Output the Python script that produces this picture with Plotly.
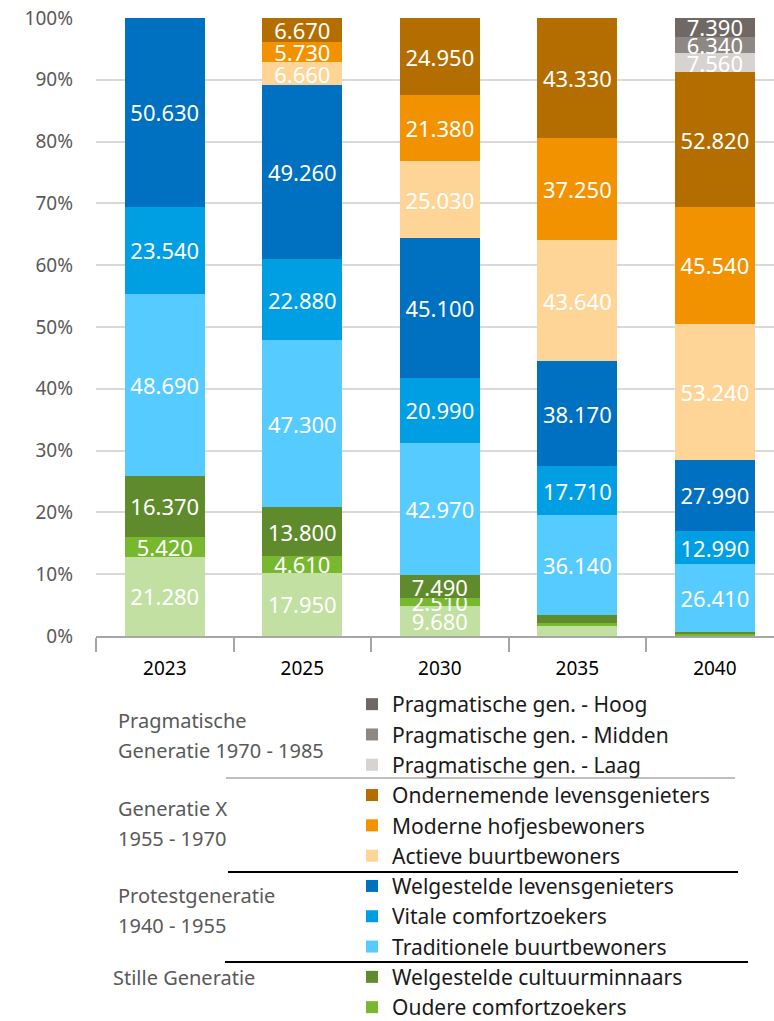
import plotly.graph_objects as go

years = ["2023", "2025", "2030", "2035", "2040"]

# series, bottom to top (absolute numbers)
stille_overig = [21280, 17950, 9680, 3600, 300]
oudere_comfort = [5420, 4610, 2510, 1100, 500]
welg_cultuur = [16370, 13800, 7490, 2900, 900]
trad_buurt = [48690, 47300, 42970, 36140, 26410]
vitale_comfort = [23540, 22880, 20990, 17710, 12990]
welg_leven = [50630, 49260, 45100, 38170, 27990]
actieve_buurt = [0, 6660, 25030, 43640, 53240]
moderne_hofjes = [0, 5730, 21380, 37250, 45540]
ondern_leven = [0, 6670, 24950, 43330, 52820]
prag_laag = [0, 0, 0, 0, 7560]
prag_midden = [0, 0, 0, 0, 6340]
prag_hoog = [0, 0, 0, 0, 7390]

# which labels are shown
show_label = {
    "stille": [True, True, True, False, False],
    "oudere": [True, True, True, False, False],
    "welgc": [True, True, True, False, False],
}

series = [
    ("Stille generatie - overig", stille_overig, "#C2E0A1", False, "stille"),
    ("Oudere comfortzoekers", oudere_comfort, "#77B82F", True, "oudere"),
    ("Welgestelde cultuurminnaars", welg_cultuur, "#5F8B2C", True, "welgc"),
    ("Traditionele buurtbewoners", trad_buurt, "#55CBFF", True, None),
    ("Vitale comfortzoekers", vitale_comfort, "#009FE3", True, None),
    ("Welgestelde levensgenieters", welg_leven, "#0070C0", True, None),
    ("Actieve buurtbewoners", actieve_buurt, "#FFD597", True, None),
    ("Moderne hofjesbewoners", moderne_hofjes, "#F39200", True, None),
    ("Ondernemende levensgenieters", ondern_leven, "#B46E00", True, None),
    ("Pragmatische gen. - Laag", prag_laag, "#D6D3D1", True, None),
    ("Pragmatische gen. - Midden", prag_midden, "#8E8884", True, None),
    ("Pragmatische gen. - Hoog", prag_hoog, "#6F6864", True, None),
]


def fmt(v):
    return f"{v:,}".replace(",", ".")


fig = go.Figure()
for name, vals, color, inleg, key in series:
    texts = []
    for i, v in enumerate(vals):
        if v == 0 or (key is not None and not show_label[key][i]):
            texts.append("")
        else:
            texts.append(fmt(v))
    fig.add_trace(go.Bar(
        x=years, y=vals, name=name, marker_color=color,
        marker_line_width=0,
        text=texts, textposition="inside", insidetextanchor="middle",
        constraintext="none", textangle=0,
        textfont=dict(family="Noto Sans", size=22, color="white"),
        showlegend=inleg,
    ))

PL, PR = 96, 774
PT, PB = 18, 636


def px(x):
    return (x - PL) / (PR - PL)


def py(y):
    return (PB - y) / (PB - PT)


shapes = []
for (x0, x1, y, col) in [(226, 735, 778, "#BFBFBF"), (228, 738, 872, "#000000"), (225, 748, 962, "#000000")]:
    shapes.append(dict(type="line", xref="paper", yref="paper", x0=px(x0), x1=px(x1), y0=py(y), y1=py(y),
                       line=dict(color=col, width=2)))

annotations = []
for (txt, x, y) in [("Pragmatische", 117, 720), ("Generatie 1970 - 1985", 117, 750),
                    ("Generatie X", 117, 808), ("1955 - 1970", 117, 838),
                    ("Protestgeneratie", 117, 895), ("1940 - 1955", 117, 925),
                    ("Stille Generatie", 112, 977)]:
    annotations.append(dict(text=txt, xref="paper", yref="paper", x=px(x), y=py(y), xanchor="left",
                            yanchor="middle", showarrow=False, borderpad=0,
                            font=dict(family="Noto Sans", size=20, color="#595959")))

fig.update_layout(
    width=774, height=1021,
    margin=dict(l=PL, r=0, t=PT, b=1021 - PB, autoexpand=False),
    barmode="stack", barnorm="percent", bargap=0.42,
    plot_bgcolor="white", paper_bgcolor="white",
    font=dict(family="Noto Sans"),
    shapes=shapes, annotations=annotations,
    legend=dict(
        traceorder="reversed", x=px(352), y=py(684), xanchor="left", yanchor="top",
        font=dict(family="Noto Sans", size=21, color="#1a1a1a"),
        bgcolor="rgba(0,0,0,0)", itemwidth=30,
    ),
    xaxis=dict(
        range=[-0.5, 4.43], showgrid=False, showline=True, linecolor="#A6A6A6", linewidth=1.5,
        ticks="outside", tickson="boundaries", ticklen=14, tickcolor="#A6A6A6", tickwidth=1.5,
        tickfont=dict(family="Noto Sans", size=19, color="#000000"), ticklabelstandoff=14,
        automargin=False,
    ),
    yaxis=dict(
        range=[0, 100], dtick=10, ticksuffix="%", showgrid=True, gridcolor="#D9D9D9", gridwidth=1.5,
        zeroline=False, showline=False, ticklabelstandoff=22, automargin=False,
        tickfont=dict(family="Noto Sans", size=19, color="#595959"),
    ),
)

fig.write_html("out.html", config={"displayModeBar": False},
               post_script="document.body.style.margin='0';document.body.style.overflow='hidden';")
